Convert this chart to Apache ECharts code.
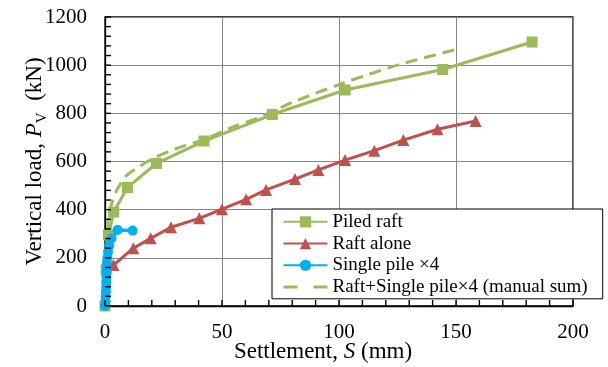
<!DOCTYPE html>
<html>
<head>
<meta charset="utf-8">
<script src="https://cdn.jsdelivr.net/npm/echarts@6/dist/echarts.min.js"></script>
<style>
html,body{margin:0;padding:0;background:#fff;}
#chart{width:608px;height:367px;}
</style>
</head>
<body>
<div id="chart"></div>
<script>
// ---- data (settlement S in mm, load P in kN) ----
var seriesNames = ['Piled raft', 'Raft alone', 'Single pile \u00d74', 'Raft+Single pile\u00d74 (manual sum)'];

var piledRaftS = [0, 0.5, 1.5, 3.7, 9.6, 22.0, 42.3, 71.5, 102.6, 144.3, 182.5];
var piledRaftP = [0, 150, 295, 390, 492, 592, 685, 795, 897, 982, 1096];

var raftAloneS = [3.6, 12.1, 19.5, 28.2, 40.3, 50.0, 60.3, 68.8, 81.2, 91.2, 102.6, 115.1, 127.5, 142.1, 158.4];
var raftAloneP = [170, 240, 281, 327, 364, 402, 443, 482, 527, 565, 606, 645, 689, 734, 768];

var singlePileS = [0, 0.2, 0.3, 0.4, 0.5, 0.5, 0.6, 0.6, 0.7, 0.8, 1.0, 1.3, 1.8, 2.8, 5.4, 11.8];
var singlePileP = [0, 20, 40, 60, 80, 100, 120, 140, 160, 180, 200, 225, 250, 280, 316, 313];

var manualSumS = [0, 0.2, 0.6, 1.0, 1.6, 3.0, 5.0, 9.0, 13.0, 20, 30, 42, 55, 65, 80, 102, 125, 150.3];
var manualSumP = [0, 100, 220, 290, 380, 430, 480, 540, 568, 610, 652, 690, 745, 779, 845, 926, 1000, 1066];

var xTicks = [0, 50, 100, 150, 200];
var yTicks = [0, 200, 400, 600, 800, 1000, 1200];
// inside tick marks (major + minor)
var xTickMarks = [0, 10, 20, 30, 40, 50, 60, 70, 80, 90, 100, 110, 120, 130, 140, 150, 160, 170, 180, 190, 200];
var yTickMarks = [0, 40, 80, 120, 160, 200, 240, 280, 320, 360, 400, 440, 480, 520, 560, 600, 640, 680, 720, 760, 800, 840, 880, 920, 960, 1000, 1040, 1080, 1120, 1160, 1200];

function pairs(xs, ys) { return xs.map(function (x, i) { return [x, ys[i]]; }); }

var FONT = '"Liberation Serif", "Times New Roman", serif';
var chart = echarts.init(document.getElementById('chart'), null, {renderer: 'canvas'});

var option = {
  animation: false,
  backgroundColor: '#fff',
  grid: {left: 105, right: 35, top: 17, bottom: 61, outerBoundsMode: 'none', containLabel: false,
    show: true, borderColor: '#000', borderWidth: 1.3},
  legend: {
    orient: 'vertical', left: 272, top: 209,
    backgroundColor: '#fff', borderColor: '#000', borderWidth: 1,
    padding: [2, 15, 1, 10], itemGap: 0, itemWidth: 44, itemHeight: 14,
    textStyle: {fontFamily: FONT, fontSize: 19, color: '#000', lineHeight: 21.7},
    data: [
      {name: seriesNames[0]},
      {name: seriesNames[1]},
      {name: seriesNames[2]},
      {name: seriesNames[3], itemStyle: {opacity: 0}, lineStyle: {type: [14, 16], width: 3}}
    ]
  },
  xAxis: {
    type: 'value', min: xTicks[0], max: xTicks[xTicks.length - 1], interval: 50,
    name: '{a|Settlement, }{i|S}{a| (mm)}', nameLocation: 'middle', nameGap: 34, nameMoveOverlap: false,
    nameTextStyle: {fontFamily: FONT, fontSize: 23, color: '#000', padding: [0, 32, 0, 0],
      rich: {a: {fontFamily: FONT, fontSize: 23, color: '#000'}, i: {fontFamily: FONT, fontSize: 23, fontStyle: 'italic', color: '#000'}}},
    axisLine: {show: true, lineStyle: {color: '#000', width: 1.3}},
    axisTick: {show: false},
    minorTick: {show: false},
    axisLabel: {fontFamily: FONT, fontSize: 21, color: '#000', margin: 16, formatter: function (v) { return String(v); }},
    splitLine: {show: true, lineStyle: {color: '#868686', width: 1}}
  },
  yAxis: {
    type: 'value', min: yTicks[0], max: yTicks[yTicks.length - 1], interval: 200,
    name: '{a|Vertical load, }{i|P}{s|V}{a|  (kN)}', nameLocation: 'middle', nameGap: 55, nameMoveOverlap: false,
    nameTextStyle: {fontFamily: FONT, fontSize: 23, color: '#000',
      rich: {
        a: {fontFamily: FONT, fontSize: 23, color: '#000', lineHeight: 30},
        i: {fontFamily: FONT, fontSize: 23, fontStyle: 'italic', color: '#000', lineHeight: 30},
        s: {fontFamily: FONT, fontSize: 15, color: '#000', lineHeight: 15, verticalAlign: 'bottom'}
      }},
    axisLine: {show: true, lineStyle: {color: '#000', width: 1.3}},
    axisTick: {show: false},
    minorTick: {show: false},
    axisLabel: {fontFamily: FONT, fontSize: 21, color: '#000', margin: 18, formatter: function (v) { return String(v); }},
    splitLine: {show: true, lineStyle: {color: '#868686', width: 1}}
  },
  series: [
    {name: seriesNames[0], type: 'line', data: pairs(piledRaftS, piledRaftP), clip: false,
      symbol: 'rect', symbolSize: 11, color: '#9BBB59',
      lineStyle: {color: '#9BBB59', width: 3}, itemStyle: {color: '#9BBB59'}},
    {name: seriesNames[1], type: 'line', data: pairs(raftAloneS, raftAloneP), clip: false,
      symbol: 'triangle', symbolSize: 12, color: '#C0504D',
      lineStyle: {color: '#C0504D', width: 3}, itemStyle: {color: '#C0504D'}},
    {name: seriesNames[2], type: 'line', data: pairs(singlePileS, singlePileP), clip: false,
      symbol: 'circle', symbolSize: 10, color: '#00B0F0',
      lineStyle: {color: '#00B0F0', width: 3.5}, itemStyle: {color: '#00B0F0'}},
    {name: seriesNames[3], type: 'line', data: pairs(manualSumS, manualSumP), clip: false,
      symbol: 'none', showSymbol: false, color: '#9BBB59', smooth: 0.3,
      lineStyle: {color: '#9BBB59', width: 3, type: [12, 7]}, itemStyle: {color: '#9BBB59'}}
  ]
};
chart.setOption(option);

// inside tick marks positioned through the chart's own axis scales
var tickGraphics = [];
xTickMarks.forEach(function (v) {
  var p = chart.convertToPixel({gridIndex: 0}, [v, yTicks[0]]);
  if (p) tickGraphics.push({type: 'line', z: 100, silent: true,
    shape: {x1: p[0], y1: p[1], x2: p[0], y2: p[1] - 6}, style: {stroke: '#000', lineWidth: 1.4}});
});
yTickMarks.forEach(function (v) {
  var p = chart.convertToPixel({gridIndex: 0}, [xTicks[0], v]);
  if (p) tickGraphics.push({type: 'line', z: 100, silent: true,
    shape: {x1: p[0], y1: p[1], x2: p[0] + 6, y2: p[1]}, style: {stroke: '#000', lineWidth: 1.4}});
});
chart.setOption({graphic: tickGraphics});
</script>
</body>
</html>
